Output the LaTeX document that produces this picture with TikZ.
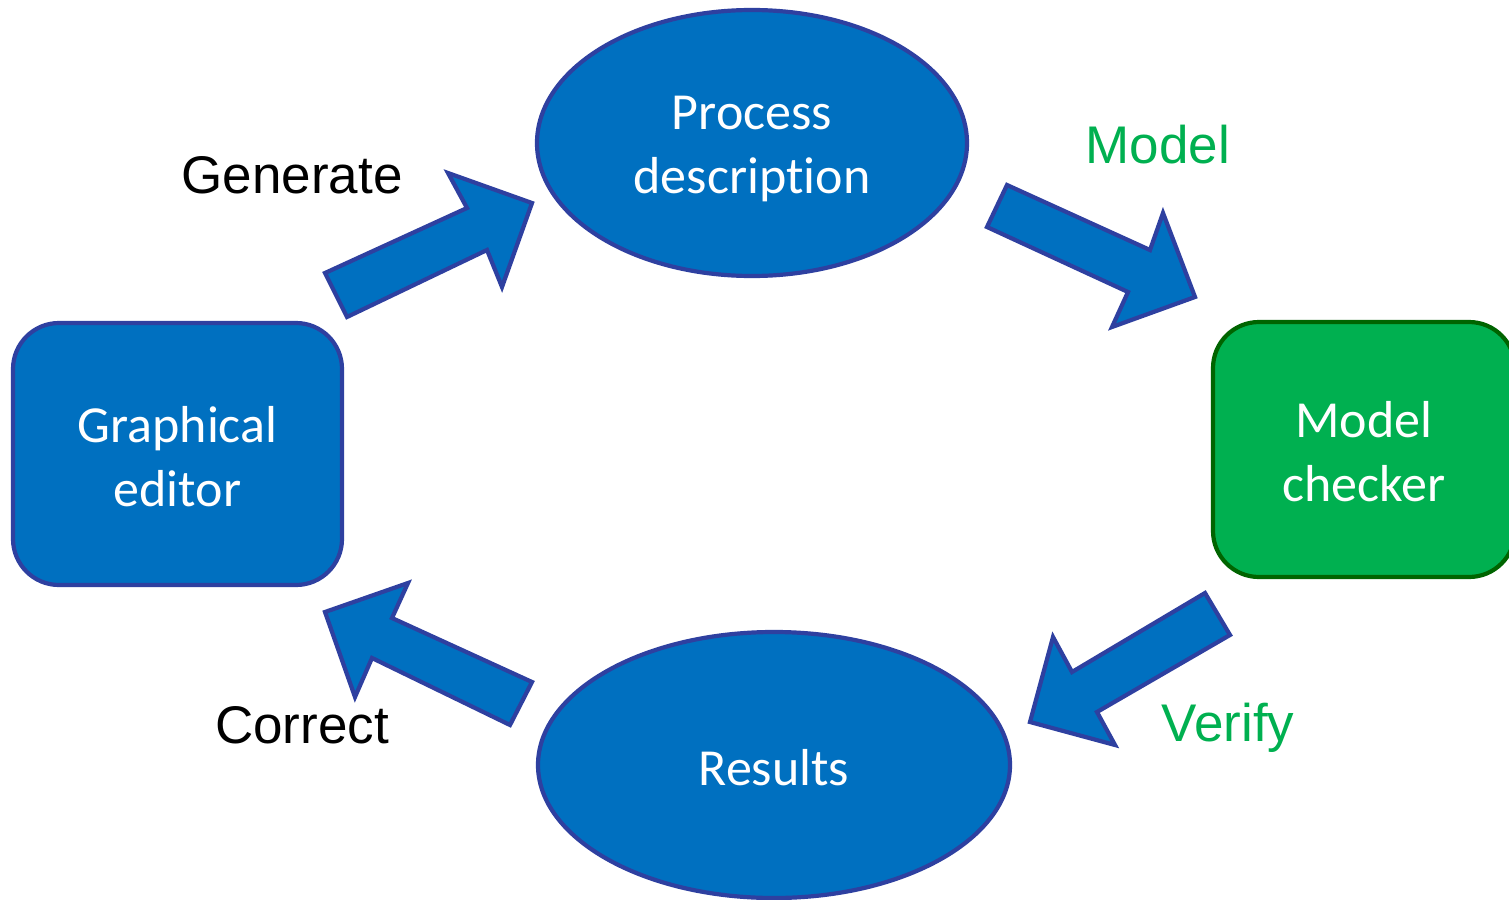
\documentclass[tikz,border=0pt]{standalone}
\usepackage{fontspec}
\setmainfont{Carlito}[Ligatures=NoCommon]
\newfontfamily\labelfont{Liberation Sans}
\usetikzlibrary{shapes.geometric}
\definecolor{nodeblue}{RGB}{0,112,192}
\definecolor{edgeblue}{RGB}{46,64,160}
\definecolor{mcgreen}{RGB}{0,176,80}
\definecolor{mcedge}{RGB}{0,100,0}
\begin{document}
\begin{tikzpicture}[x=1pt,y=-1pt,
  blob/.style={ellipse, fill=nodeblue, draw=edgeblue, line width=4.2pt, inner sep=0pt},
  boxnode/.style={rectangle, rounded corners=46pt, fill=nodeblue, draw=edgeblue, line width=4.2pt, inner sep=0pt},
  greenbox/.style={boxnode, fill=mcgreen, draw=mcedge},
  nodetext/.style={text=white, font=\fontsize{52}{64}\selectfont, align=center, inner sep=0pt},
  blockarrow/.style={fill=nodeblue, draw=edgeblue, line width=4.2pt, line join=miter},
  lbl/.style={font=\labelfont\fontsize{53}{60}\selectfont, inner sep=0pt},
  greenlbl/.style={lbl, text=mcgreen}]
\useasboundingbox (0,0) rectangle (1509,899);
\clip (0,0) rectangle (1509,899);
\fill[white] (0,0) rectangle (1509,899);

\node[blob, minimum width=430pt, minimum height=266pt] (proc) at (752,143) {};
\node[blob, minimum width=472pt, minimum height=266pt] (res) at (774,765) {};
\node[boxnode, minimum width=329pt, minimum height=262pt] (edit) at (177.5,454) {};
\node[greenbox, minimum width=302pt, minimum height=255pt] (mc) at (1364,449.5) {};

\node[nodetext] (proct) at ([yshift=-6pt]proc.center) {Process\\description};
\node[nodetext] (rest) at ([yshift=-3pt]res.center) {Results};
\node[nodetext] (editt) at ([yshift=-3pt]edit.center) {Graphical\\editor};
\node[nodetext] (mct) at ([yshift=-2pt]mc.center) {Model\\checker};

% block arrows
\draw[blockarrow] (325,273) -- (467,208) -- (448,173) -- (532,203) -- (502,287) -- (487,250) -- (347,317) -- cycle;
\draw[blockarrow] (1007,185) -- (1150,250) -- (1163,213) -- (1195,297) -- (1112,327) -- (1128,292) -- (987,227) -- cycle;
\draw[blockarrow] (1205,593) -- (1230,635) -- (1097,712) -- (1115,745) -- (1030,722) -- (1053,637) -- (1072,672) -- cycle;
\draw[blockarrow] (532,682) -- (510,725) -- (372,658) -- (355,697) -- (325,612) -- (408,583) -- (392,618) -- cycle;

\node[lbl] (gen) at (292,175) {Generate};
\node[greenlbl] (mod) at (1158,145) {Model};
\node[greenlbl] (ver) at (1228,728) {Verify};
\node[lbl] (cor) at (302,725) {Correct};
\end{tikzpicture}
\end{document}
